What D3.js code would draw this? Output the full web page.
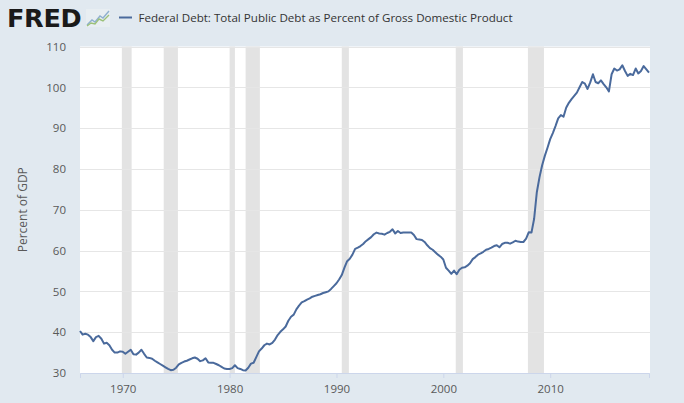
<!DOCTYPE html>
<html><head><meta charset="utf-8">
<script src="https://cdn.jsdelivr.net/npm/d3@7"></script>
<style>
html,body{margin:0;padding:0;background:#e1e9f0;}
svg{display:block;}
</style></head>
<body>
<svg id="chart" width="684" height="403"></svg>
<script>
// Quarterly data, 1966 Q1 .. 2019 Q2 (percent of GDP)
const startYear = 1966;
const debtValues = [
  40.3, 39.4, 39.6, 39.4,   // 1966
  38.8, 37.8, 38.8, 39.1,   // 1967
  38.4, 37.2, 37.4, 36.8,   // 1968
  35.7, 35.0, 35.0, 35.3,   // 1969
  35.2, 34.7, 35.2, 35.7,   // 1970
  34.6, 34.5, 35.0, 35.7,   // 1971
  34.7, 33.8, 33.7, 33.5,   // 1972
  33.0, 32.6, 32.2, 31.8,   // 1973
  31.4, 31.0, 30.7, 30.8,   // 1974
  31.3, 32.1, 32.5, 32.8,   // 1975
  33.0, 33.3, 33.6, 33.8,   // 1976
  33.5, 32.9, 33.1, 33.6,   // 1977
  32.6, 32.5, 32.5, 32.2,   // 1978
  31.9, 31.5, 31.1, 31.0,   // 1979
  31.0, 31.2, 31.9, 31.2,   // 1980
  31.0, 30.7, 30.6, 31.3,   // 1981
  32.3, 32.5, 33.9, 35.3,   // 1982
  36.0, 36.8, 37.2, 37.0,   // 1983
  37.4, 38.2, 39.3, 40.1,   // 1984
  40.7, 41.4, 42.8, 43.8,   // 1985
  44.3, 45.6, 46.5, 47.3,   // 1986
  47.6, 48.0, 48.3, 48.7,   // 1987
  48.9, 49.1, 49.3, 49.6,   // 1988
  49.8, 50.0, 50.6, 51.3,   // 1989
  52.0, 52.9, 54.0, 55.8,   // 1990
  57.4, 58.0, 59.0, 60.4,   // 1991
  60.7, 61.1, 61.6, 62.3,   // 1992
  62.8, 63.3, 64.0, 64.4,   // 1993
  64.2, 64.1, 63.9, 64.3,   // 1994
  64.6, 65.2, 64.2, 64.8,   // 1995
  64.3, 64.4, 64.4, 64.4,   // 1996
  64.4, 63.8, 62.8, 62.7,   // 1997
  62.6, 62.1, 61.3, 60.6,   // 1998
  60.2, 59.6, 59.0, 58.5,   // 1999
  57.8, 55.8, 55.1, 54.3,   // 2000
  55.1, 54.2, 55.3, 55.8,   // 2001
  55.9, 56.3, 56.9, 57.9,   // 2002
  58.4, 59.0, 59.3, 59.7,   // 2003
  60.2, 60.4, 60.7, 61.1,   // 2004
  61.3, 60.8, 61.6, 61.9,   // 2005
  61.9, 61.7, 62.0, 62.4,   // 2006
  62.2, 62.1, 62.1, 62.9,   // 2007
  64.5, 64.4, 67.8, 74.3,   // 2008
  78.0, 80.9, 83.2, 85.2,   // 2009
  87.3, 88.8, 90.5, 92.4,   // 2010
  93.2, 92.8, 95.0, 96.2,   // 2011
  97.1, 97.9, 98.7, 100.0,  // 2012
  101.3, 100.9, 99.6, 101.2,// 2013
  103.2, 101.3, 101.0, 101.7,// 2014
  100.8, 100.0, 99.0, 103.2,// 2015
  104.6, 104.1, 104.4, 105.4,// 2016
  104.0, 102.8, 103.3, 103.0,// 2017
  104.6, 103.4, 104.0, 105.2,// 2018
  104.4, 103.6              // 2019
];
const recessionStarts = ["1969-12-01","1973-11-01","1980-01-01","1981-07-01","1990-07-01","2001-03-01","2007-12-01"];
const recessionEnds   = ["1970-11-01","1975-03-01","1980-07-01","1982-11-01","1991-03-01","2001-11-01","2009-06-01"];
const yTicks = [30, 40, 50, 60, 70, 80, 90, 100, 110];
const xTickYears = [1970, 1980, 1990, 2000, 2010];
const seriesTitle = "Federal Debt: Total Public Debt as Percent of Gross Domestic Product";
const yAxisLabel = "Percent of GDP";

const data = debtValues.map((v, i) => ({
  date: new Date(startYear + Math.floor(i / 4), (i % 4) * 3, 1),
  value: v
}));
const recessions = recessionStarts.map((s, i) => ({start: new Date(s), end: new Date(recessionEnds[i])}));

const svg = d3.select("#chart");
const pLeft = 80, pRight = 649, pTop = 46.5, pBottom = 373;

const x = d3.scaleTime()
  .domain([new Date(1966, 0, 1), new Date(2019, 3, 1)])
  .range([pLeft, pRight]);
const y = d3.scaleLinear().domain([30, 110]).range([pBottom, pTop]);

// plot background
svg.append("rect").attr("x", pLeft).attr("y", pTop).attr("width", pRight - pLeft + 1).attr("height", pBottom - pTop)
  .attr("fill", "#ffffff");

// recessions
svg.append("g").selectAll("rect").data(recessions).join("rect")
  .attr("x", d => x(d.start)).attr("y", pTop)
  .attr("width", d => x(d.end) - x(d.start)).attr("height", pBottom - pTop)
  .attr("fill", "#e3e3e3");

// gridlines
svg.append("g").selectAll("line").data(yTicks.filter(t => t > 30)).join("line")
  .attr("x1", pLeft).attr("x2", pRight + 1)
  .attr("y1", d => Math.round(y(d)) + 0.5).attr("y2", d => Math.round(y(d)) + 0.5)
  .attr("stroke", "#e6e6e6").attr("stroke-width", 1);

// y axis labels
const yAxis = d3.axisLeft(y).tickValues(yTicks).tickSize(0).tickPadding(14);
const yg = svg.append("g").attr("transform", `translate(${pLeft},0)`).call(yAxis);
yg.select(".domain").remove();
yg.selectAll("text").attr("fill", "#595959").style("font-family", "'Open Sans', sans-serif").style("font-size", "11.5px");

// x axis
const xAxis = d3.axisBottom(x).tickValues(xTickYears.map(yv => new Date(yv, 0, 1)))
  .tickFormat(d3.timeFormat("%Y")).tickSize(5).tickPadding(7);
const xg = svg.append("g").attr("transform", `translate(0,${pBottom})`).call(xAxis);
xg.select(".domain").attr("stroke", "#ccd6eb");
xg.selectAll(".tick line").attr("stroke", "#ccd6eb");
xg.selectAll("text").attr("fill", "#595959").style("font-family", "'Open Sans', sans-serif").style("font-size", "11.5px");

// y label
svg.append("text")
  .attr("transform", `translate(27,${(pTop + pBottom) / 2}) rotate(-90)`)
  .attr("text-anchor", "middle")
  .attr("fill", "#595959")
  .style("font-family", "'Open Sans', sans-serif").style("font-size", "12px")
  .text(yAxisLabel);

// line
const line = d3.line().x(d => x(d.date)).y(d => y(d.value));
svg.append("path").datum(data).attr("d", line)
  .attr("fill", "none").attr("stroke", "#4a6a9c").attr("stroke-width", 2)
  .attr("stroke-linejoin", "round");

// header: FRED logo
svg.append("text").attr("x", 7).attr("y", 27)
  .attr("fill", "#1a1a1a")
  .style("font-family", "'DejaVu Sans', sans-serif").style("font-weight", "900")
  .style("font-size", "25.5px").style("letter-spacing", "-0.3px")
  .text("FRED");
const icon = svg.append("g").attr("transform", "translate(86,9)");
icon.append("rect").attr("x", 0).attr("y", 0).attr("width", 24).attr("height", 18).attr("fill", "#e8eef2");
icon.append("path").attr("d", "M1,16 L6,11 L9,13 L14,7 L17,9 L23,2")
  .attr("fill", "none").attr("stroke", "#8fb0cf").attr("stroke-width", 1.4);
icon.append("path").attr("d", "M1,17 L5,14 L9,15 L13,10 L17,12 L23,6")
  .attr("fill", "none").attr("stroke", "#9cc17a").attr("stroke-width", 1.4);

// legend
svg.append("line").attr("x1", 119).attr("x2", 132).attr("y1", 17.5).attr("y2", 17.5)
  .attr("stroke", "#4a6a9c").attr("stroke-width", 2);
svg.append("text").attr("x", 138.5).attr("y", 22)
  .attr("fill", "#333333")
  .style("font-family", "'Open Sans', sans-serif").style("font-size", "11.6px")
  .text(seriesTitle);
</script>
</body></html>
